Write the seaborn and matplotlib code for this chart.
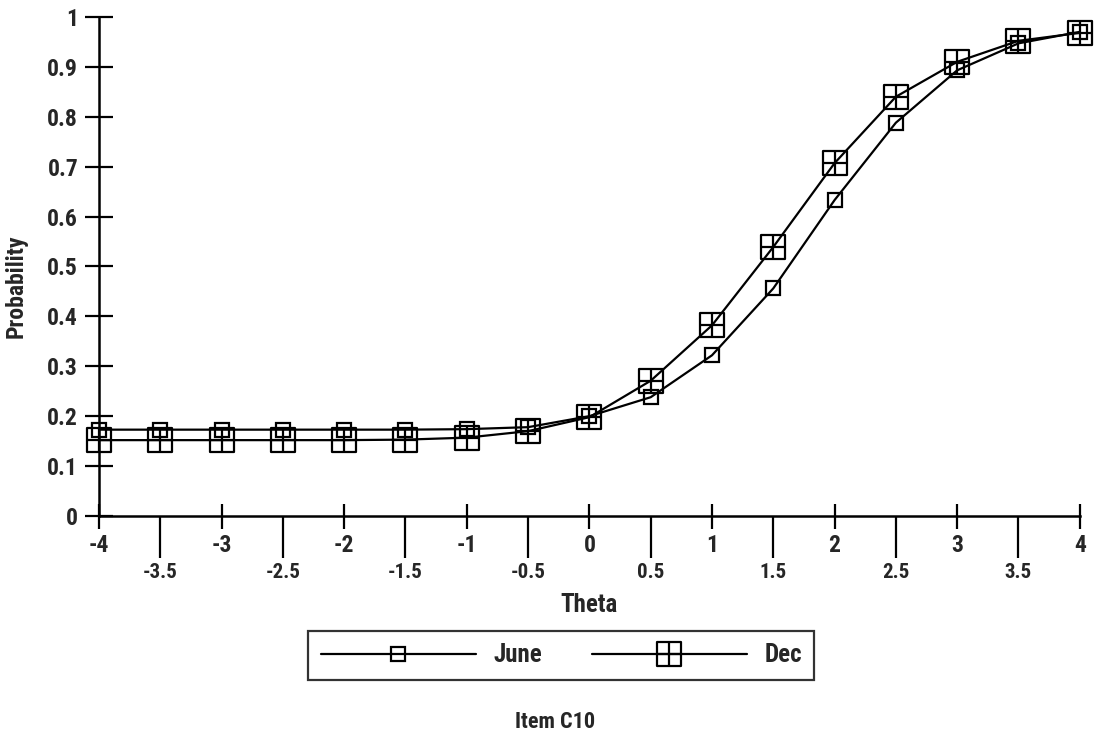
import numpy as np
import pandas as pd
import matplotlib
matplotlib.use("Agg")
import matplotlib.pyplot as plt
from matplotlib.path import Path
import seaborn as sns

theta = [-4, -3.5, -3, -2.5, -2, -1.5, -1, -0.5, 0, 0.5, 1, 1.5, 2, 2.5, 3, 3.5, 4]
june = [0.173, 0.173, 0.173, 0.173, 0.173, 0.173, 0.174, 0.178, 0.200, 0.238, 0.322, 0.456, 0.633, 0.788, 0.893, 0.947, 0.970]
dec = [0.152, 0.152, 0.152, 0.152, 0.152, 0.153, 0.157, 0.170, 0.198, 0.271, 0.382, 0.539, 0.707, 0.840, 0.910, 0.952, 0.968]
series_names = ["June", "Dec"]
major_ticks = [-4, -3, -2, -1, 0, 1, 2, 3, 4]
minor_ticks = [-3.5, -2.5, -1.5, -0.5, 0.5, 1.5, 2.5, 3.5]
y_ticks = [0, 0.1, 0.2, 0.3, 0.4, 0.5, 0.6, 0.7, 0.8, 0.9, 1]
y_labels = ["0", "0.1", "0.2", "0.3", "0.4", "0.5", "0.6", "0.7", "0.8", "0.9", "1"]

sns.set_theme(style="white")
FONT = ["Liberation Sans Narrow", "Roboto Condensed", "Liberation Sans", "DejaVu Sans"]
plt.rcParams["font.family"] = FONT
plt.rcParams["font.weight"] = "bold"

# square-with-plus marker
verts = [(-1, -1), (1, -1), (1, 1), (-1, 1), (-1, -1),
         (-1, 0), (1, 0), (0, -1), (0, 1)]
codes = [Path.MOVETO, Path.LINETO, Path.LINETO, Path.LINETO, Path.CLOSEPOLY,
         Path.MOVETO, Path.LINETO, Path.MOVETO, Path.LINETO]
sq_plus = Path(verts, codes)

fig = plt.figure(figsize=(10.94, 7.34), dpi=100)
ax = fig.add_axes([0.0905, 0.297, 0.8965, 0.68])

sns.lineplot(x=theta, y=june, ax=ax, color="black", linewidth=1.6,
             marker="s", markersize=9.5, markerfacecolor="none",
             markeredgecolor="black", markeredgewidth=1.6,
             label=series_names[0], clip_on=False)
sns.lineplot(x=theta, y=dec, ax=ax, color="black", linewidth=1.6,
             marker=sq_plus, markersize=17, markerfacecolor="none",
             markeredgecolor="black", markeredgewidth=1.6,
             label=series_names[1], clip_on=False)

ax.set_xlim(-4, 4)
ax.set_ylim(0, 1)
for s in ["top", "right"]:
    ax.spines[s].set_visible(False)
for s in ["left", "bottom"]:
    ax.spines[s].set_color("black")
    ax.spines[s].set_linewidth(1.8)

ax.set_yticks(y_ticks)
ax.set_yticklabels(y_labels, fontsize=17, fontweight="bold")
ax.set_xticks(major_ticks)
ax.set_xticklabels([f"{t:g}" for t in major_ticks], fontsize=17, fontweight="bold")
ax.set_xticks(minor_ticks, minor=True)
ax.set_xticklabels([f"{t:g}" for t in minor_ticks], minor=True, fontsize=15, fontweight="bold")

ax.tick_params(axis="y", which="major", direction="inout", length=20, width=1.6,
               color="black", pad=5, left=True)
ax.tick_params(axis="x", which="major", direction="inout", length=18, width=1.6,
               color="black", pad=4, bottom=True)
ax.tick_params(axis="x", which="minor", direction="out", length=30, width=1.6,
               color="black", pad=4, bottom=True)

ax.set_xlabel("Theta", fontsize=18, fontweight="bold", labelpad=8)
ax.set_ylabel("Probability", fontsize=17, fontweight="bold")
ax.yaxis.set_label_coords(-0.073, 0.46)

ax.get_legend().remove()
handles, labels = ax.get_legend_handles_labels()
leg = fig.legend(handles, labels, loc="center", bbox_to_anchor=(0.513, 0.107),
                 ncol=2, frameon=True, fancybox=False, shadow=False,
                 handlelength=6.2, columnspacing=2.0,
                 borderpad=0.5, handletextpad=0.7,
                 prop={"family": FONT, "weight": "bold", "size": 18})
leg.get_frame().set_edgecolor("black")
leg.get_frame().set_linewidth(1.6)

fig.text(0.507, 0.016, "Item C10", ha="center", va="center",
         fontsize=16, fontweight="bold")

fig.savefig("out.png", dpi=100, facecolor="white")
